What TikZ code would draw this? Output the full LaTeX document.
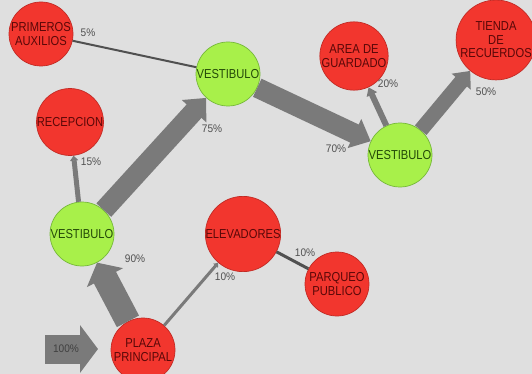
\documentclass[tikz,border=0pt]{standalone}
\usepackage{fontspec}
\setmainfont{Liberation Sans}
\newfontfamily\nodefont[FakeStretch=0.86]{Liberation Sans}
\newfontfamily\pctfont[FakeStretch=0.92]{Liberation Sans}
\usetikzlibrary{arrows.meta}
\definecolor{bgc}{HTML}{DFDFDF}
\definecolor{redfill}{HTML}{F2362E}
\definecolor{redline}{HTML}{C22A24}
\definecolor{redtext}{HTML}{5A0808}
\definecolor{greenfill}{HTML}{A8F04A}
\definecolor{greenline}{HTML}{76B83A}
\definecolor{greentext}{HTML}{244A08}
\definecolor{arrowgray}{HTML}{7A7A7A}
\definecolor{linegray}{HTML}{505050}
\definecolor{labelgray}{HTML}{505050}
\begin{document}
\begin{tikzpicture}[x=1pt,y=-1pt,
  place/.style={circle, minimum size=64pt, inner sep=0pt, align=center,
    font=\nodefont\fontsize{13}{13.5}\selectfont},
  rednode/.style={place, fill=redfill, draw=redline, line width=0.7pt, text=redtext},
  greennode/.style={place, fill=greenfill, draw=greenline, line width=0.7pt, text=greentext},
  pct/.style={font=\pctfont\fontsize{11}{12}\selectfont, text=labelgray, inner sep=0pt},
  flowarrow/.style={draw=arrowgray},
  thinlink/.style={draw=linegray}
]
\fill[bgc] (0,0) rectangle (532,374);
\useasboundingbox (0,0) rectangle (532,374);

% nodes
\node[rednode] (pa) at (41,34) {PRIMEROS\\AUXILIOS};
\node[greennode] (v1) at (228,74) {VESTIBULO};
\node[rednode] (rec) at (70,122) {RECEPCION};
\node[rednode] (ag) at (354,56) {AREA DE\\GUARDADO};
\node[rednode, minimum size=66pt] (tr) at (496,40) {TIENDA\\DE\\RECUERDOS};
\node[greennode] (v2) at (400,155) {VESTIBULO};
\node[greennode] (vl) at (82,234) {VESTIBULO};
\node[rednode] (el) at (243,234) {ELEVADORES};
\node[rednode] (pp) at (337,284) {PARQUEO\\PUBLICO};
\node[rednode] (pl) at (143,350) {PLAZA\\PRINCIPAL};

% entry arrow
\coordinate (in0) at (45,349);
\coordinate (in1) at (98,349);
\draw[flowarrow, line width=29pt, -{Triangle[width=47pt,length=18pt]}] (in0) -- (in1);
\node[font=\pctfont\fontsize{11}{12}\selectfont, text=black!75] (l100) at (66,349) {100\%};

% flows
\draw[flowarrow, line width=25pt, -{Triangle[width=40pt,length=17pt]}] (pl) -- (vl);
\draw[flowarrow, line width=20pt, -{Triangle[width=32pt,length=18pt]}] (vl) -- (v1);
\draw[flowarrow, line width=20pt, -{Triangle[width=31pt,length=18pt]}] (v1) -- (v2);
\draw[flowarrow, line width=15pt, -{Triangle[width=24pt,length=14pt]}] (v2) -- (tr);
\draw[flowarrow, line width=6pt, -{Triangle[width=11pt,length=8pt]}] (v2) -- (ag);
\draw[flowarrow, line width=5pt, -{Triangle[width=8pt,length=5pt]}] (vl) -- (rec);
\draw[thinlink, line width=2pt] (v1) -- (pa);
\draw[flowarrow, line width=3pt, -{Triangle[width=6pt,length=4pt]}] (pl) -- (el);
\draw[thinlink, line width=3pt] (el) -- (pp);

% labels
\node[pct] (l5) at (88,33) {5\%};
\node[pct] (l75) at (212,129) {75\%};
\node[pct] (l15) at (91,162) {15\%};
\node[pct] (l90) at (135,259) {90\%};
\node[pct] (l10a) at (225,277) {10\%};
\node[pct] (l10b) at (305,253) {10\%};
\node[pct] (l20) at (388,84) {20\%};
\node[pct] (l50) at (486,92) {50\%};
\node[pct] (l70) at (336,149) {70\%};
\end{tikzpicture}
\end{document}
